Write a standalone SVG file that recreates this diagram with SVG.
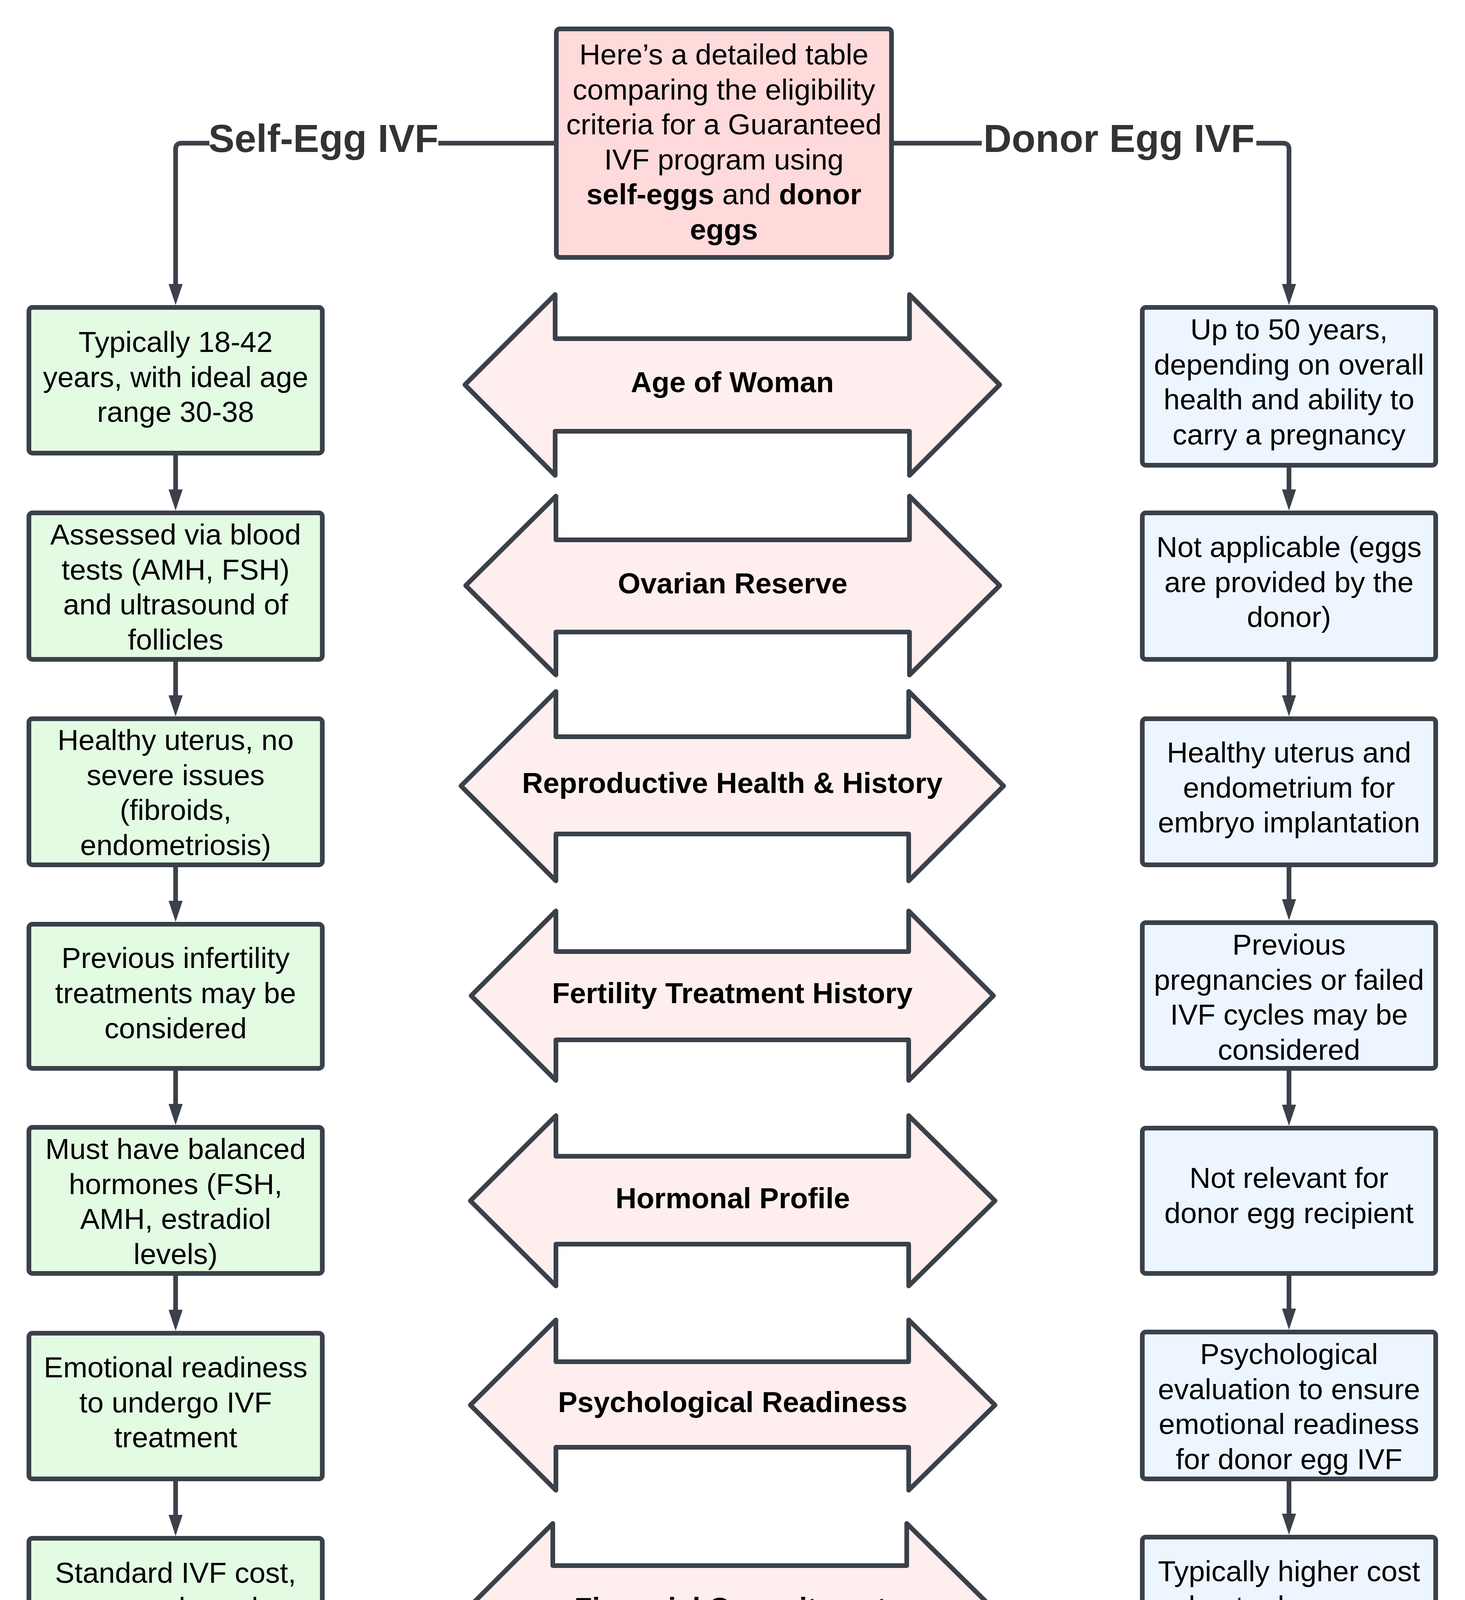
<svg xmlns="http://www.w3.org/2000/svg" width="3750" height="5469" viewBox="0 0 3750 5469">
<defs>
<style>
.bx{stroke:#3a414a;stroke-width:12;stroke-linejoin:round}
.g{fill:#e3fae3}
.b{fill:#edf5ff}
.h{fill:#ffdada}
.ar{fill:#ffeeee;stroke:#3a414a;stroke-width:12;stroke-linejoin:round}
.t{font-family:"Liberation Sans",Arial,sans-serif;font-size:74.5px;fill:#000;text-anchor:middle}
.bd{font-weight:bold}
.lab{font-family:"Liberation Sans",Arial,sans-serif;font-size:100px;font-weight:bold;fill:#333;text-anchor:middle}
.cn{fill:none;stroke:#3a414a;stroke-width:12;stroke-linejoin:round;marker-end:url(#ah)}
</style>
<marker id="ah" markerUnits="userSpaceOnUse" markerWidth="60" markerHeight="40" refX="0" refY="18" orient="auto" overflow="visible">
<path d="M0,0 L54,18 L0,36 z" fill="#3a414a"/>
</marker>
</defs>
<rect width="3750" height="5469" fill="#fff"/>

<g id="connectors">
<path class="cn" d="M1418 366.5 H1122 M536 366.5 H465 Q449.5 366.5 449.5 382 V727"/>
<path class="cn" d="M2288 366.5 H2513 M3216 366.5 H3284 Q3299.5 366.5 3299.5 382 V727"/>
<path class="cn" d="M449.5 1160 V1253"/>
<path class="cn" d="M449.5 1688 V1780"/>
<path class="cn" d="M449.5 2214 V2306"/>
<path class="cn" d="M449.5 2735 V2826"/>
<path class="cn" d="M449.5 3260 V3353"/>
<path class="cn" d="M449.5 3786 V3878"/>
<path class="cn" d="M449.5 4311 V4388"/>
<path class="cn" d="M449.5 4835 V4927"/>
<path class="cn" d="M3299.5 1191 V1253"/>
<path class="cn" d="M3299.5 1688 V1780"/>
<path class="cn" d="M3299.5 2214 V2302"/>
<path class="cn" d="M3299.5 2735 V2828"/>
<path class="cn" d="M3299.5 3260 V3350"/>
<path class="cn" d="M3299.5 3786 V3875"/>
<path class="cn" d="M3299.5 4309 V4388"/>
<path class="cn" d="M3299.5 4822 V4931"/>
<text class="lab" x="828" y="389">Self-Egg IVF</text>
<text class="lab" x="2864.5" y="389">Donor Egg IVF</text>
</g>

<g id="header">
<rect class="bx h" x="1424" y="74" width="858" height="585" rx="9"/>
<text class="t"><tspan x="1853" y="165">Here’s a detailed table</tspan><tspan x="1853" y="254.5">comparing the eligibility</tspan><tspan x="1853" y="344">criteria for a Guaranteed</tspan><tspan x="1853" y="433.5">IVF program using</tspan><tspan x="1853" y="523"><tspan class="bd">self-eggs</tspan> and <tspan class="bd">donor</tspan></tspan><tspan x="1853" y="612.5" class="bd">eggs</tspan></text>
</g>

<g id="arrow-age">
<path class="ar" d="M1190 985 L1421 754 V867 H2328 V754 L2559 985 L2328 1217 V1104 H1421 V1217 Z"/>
<text class="t bd" x="1874.5" y="1004">Age of Woman</text>
</g>
<g id="arrow-ovarian">
<path class="ar" d="M1192 1499 L1423 1270 V1382 H2328 V1270 L2559 1499 L2328 1728 V1618 H1423 V1728 Z"/>
<text class="t bd" x="1875.5" y="1519">Ovarian Reserve</text>
</g>
<g id="arrow-reproductive">
<path class="ar" d="M1180 2012 L1423 1770 V1886 H2326 V1770 L2569 2012 L2326 2255 V2135 H1423 V2255 Z"/>
<text class="t bd" x="1874.5" y="2030">Reproductive Health &amp; History</text>
</g>
<g id="arrow-fertility">
<path class="ar" d="M1206 2549 L1423 2332 V2436 H2326 V2332 L2543 2549 L2326 2766 V2662 H1423 V2766 Z"/>
<text class="t bd" x="1874.5" y="2568">Fertility Treatment History</text>
</g>
<g id="arrow-hormonal">
<path class="ar" d="M1204 3074 L1423 2856 V2960 H2326 V2856 L2547 3074 L2326 3292 V3185 H1423 V3292 Z"/>
<text class="t bd" x="1875.5" y="3093">Hormonal Profile</text>
</g>
<g id="arrow-psychological">
<path class="ar" d="M1204 3597 L1423 3379 V3486 H2326 V3379 L2547 3597 L2326 3815 V3705 H1423 V3815 Z"/>
<text class="t bd" x="1875.5" y="3615">Psychological Readiness</text>
</g>
<g id="arrow-financial">
<path class="ar" d="M1192 4123 L1415 3900 V4008 H2321 V3900 L2547 4123 L2321 4345 V4237 H1415 V4345 Z"/>
<text class="t bd" x="1869.5" y="4142">Financial Commitment</text>
</g>
<g id="arrow-pregnancy">
<path class="ar" d="M1204 4644 L1425 4421 V4531 H2332 V4421 L2559 4644 L2332 4868 V4757 H1425 V4868 Z"/>
<text class="t bd" x="1881.5" y="4664">Previous pregnancy history</text>
</g>
<g id="arrow-donor-health">
<path class="ar" d="M1213 5166 L1431 4948 V5055 H2326 V4948 L2547 5166 L2326 5388 V5280 H1431 V5388 Z"/>
<text class="t bd" x="1880" y="5187">Donor health screening</text>
</g>

<g id="self-age">
<rect class="bx g" x="74" y="787" width="751" height="373" rx="9"/>
<text class="t"><tspan x="449.5" y="901">Typically 18-42</tspan><tspan x="449.5" y="990.5">years, with ideal age</tspan><tspan x="449.5" y="1080">range 30-38</tspan></text>
</g>
<g id="self-ovarian">
<rect class="bx g" x="74" y="1313" width="751" height="375" rx="9"/>
<text class="t"><tspan x="449.5" y="1394">Assessed via blood</tspan><tspan x="449.5" y="1483.5">tests (AMH, FSH)</tspan><tspan x="449.5" y="1573">and ultrasound of</tspan><tspan x="449.5" y="1662.5">follicles</tspan></text>
</g>
<g id="self-reproductive">
<rect class="bx g" x="74" y="1840" width="751" height="374" rx="9"/>
<text class="t"><tspan x="449.5" y="1920">Healthy uterus, no</tspan><tspan x="449.5" y="2009.5">severe issues</tspan><tspan x="449.5" y="2099">(fibroids,</tspan><tspan x="449.5" y="2188.5">endometriosis)</tspan></text>
</g>
<g id="self-fertility">
<rect class="bx g" x="74" y="2366" width="751" height="369" rx="9"/>
<text class="t"><tspan x="449.5" y="2478">Previous infertility</tspan><tspan x="449.5" y="2568">treatments may be</tspan><tspan x="449.5" y="2658">considered</tspan></text>
</g>
<g id="self-hormonal">
<rect class="bx g" x="74" y="2886" width="751" height="374" rx="9"/>
<text class="t"><tspan x="449.5" y="2967">Must have balanced</tspan><tspan x="449.5" y="3056.5">hormones (FSH,</tspan><tspan x="449.5" y="3146">AMH, estradiol</tspan><tspan x="449.5" y="3235.5">levels)</tspan></text>
</g>
<g id="self-psychological">
<rect class="bx g" x="74" y="3413" width="751" height="373" rx="9"/>
<text class="t"><tspan x="449.5" y="3526">Emotional readiness</tspan><tspan x="449.5" y="3615.5">to undergo IVF</tspan><tspan x="449.5" y="3705">treatment</tspan></text>
</g>
<g id="self-financial">
<rect class="bx g" x="74" y="3938" width="751" height="373" rx="9"/>
<text class="t"><tspan x="449.5" y="4052">Standard IVF cost,</tspan><tspan x="449.5" y="4141.5">may vary based on</tspan><tspan x="449.5" y="4231">clinic and location</tspan></text>
</g>
<g id="self-pregnancy">
<rect class="bx g" x="74" y="4448" width="751" height="387" rx="9"/>
<text class="t"><tspan x="449.5" y="4530">History of recurrent</tspan><tspan x="449.5" y="4619.5">miscarriage may</tspan><tspan x="449.5" y="4709">require additional</tspan><tspan x="449.5" y="4798.5">tests</tspan></text>
</g>
<g id="self-donor-health">
<rect class="bx g" x="74" y="4987" width="751" height="373" rx="9"/>
<text class="t" x="449.5" y="5193">Not applicable</text>
</g>

<g id="donor-age">
<rect class="bx b" x="2924" y="787" width="751" height="404" rx="9"/>
<text class="t"><tspan x="3299.5" y="869">Up to 50 years,</tspan><tspan x="3299.5" y="958.5">depending on overall</tspan><tspan x="3299.5" y="1048">health and ability to</tspan><tspan x="3299.5" y="1137.5">carry a pregnancy</tspan></text>
</g>
<g id="donor-ovarian">
<rect class="bx b" x="2924" y="1313" width="751" height="375" rx="9"/>
<text class="t"><tspan x="3299.5" y="1426">Not applicable (eggs</tspan><tspan x="3299.5" y="1515.5">are provided by the</tspan><tspan x="3299.5" y="1605">donor)</tspan></text>
</g>
<g id="donor-reproductive">
<rect class="bx b" x="2924" y="1840" width="751" height="374" rx="9"/>
<text class="t"><tspan x="3299.5" y="1952">Healthy uterus and</tspan><tspan x="3299.5" y="2041.5">endometrium for</tspan><tspan x="3299.5" y="2131">embryo implantation</tspan></text>
</g>
<g id="donor-fertility">
<rect class="bx b" x="2924" y="2362" width="751" height="373" rx="9"/>
<text class="t"><tspan x="3299.5" y="2444">Previous</tspan><tspan x="3299.5" y="2533.5">pregnancies or failed</tspan><tspan x="3299.5" y="2623">IVF cycles may be</tspan><tspan x="3299.5" y="2712.5">considered</tspan></text>
</g>
<g id="donor-hormonal">
<rect class="bx b" x="2924" y="2888" width="751" height="372" rx="9"/>
<text class="t"><tspan x="3299.5" y="3041">Not relevant for</tspan><tspan x="3299.5" y="3130.5">donor egg recipient</tspan></text>
</g>
<g id="donor-psychological">
<rect class="bx b" x="2924" y="3410" width="751" height="376" rx="9"/>
<text class="t"><tspan x="3299.5" y="3492">Psychological</tspan><tspan x="3299.5" y="3581.5">evaluation to ensure</tspan><tspan x="3299.5" y="3671">emotional readiness</tspan><tspan x="3299.5" y="3760.5">for donor egg IVF</tspan></text>
</g>
<g id="donor-financial">
<rect class="bx b" x="2924" y="3935" width="751" height="374" rx="9"/>
<text class="t"><tspan x="3299.5" y="4048">Typically higher cost</tspan><tspan x="3299.5" y="4137.5">due to donor egg</tspan><tspan x="3299.5" y="4227">retrieval</tspan></text>
</g>
<g id="donor-pregnancy">
<rect class="bx b" x="2924" y="4448" width="751" height="374" rx="9"/>
<text class="t"><tspan x="3299.5" y="4530">History of</tspan><tspan x="3299.5" y="4619.5">miscarriage may</tspan><tspan x="3299.5" y="4709">require additional</tspan><tspan x="3299.5" y="4798.5">screening</tspan></text>
</g>
<g id="donor-donor-health">
<rect class="bx b" x="2924" y="4991" width="751" height="373" rx="9"/>
<text class="t"><tspan x="3299.5" y="5077">Thorough screening</tspan><tspan x="3299.5" y="5166.5">of egg donor</tspan><tspan x="3299.5" y="5256">(genetic testing,</tspan><tspan x="3299.5" y="5345.5">infectious diseases, )</tspan></text>
</g>
</svg>
